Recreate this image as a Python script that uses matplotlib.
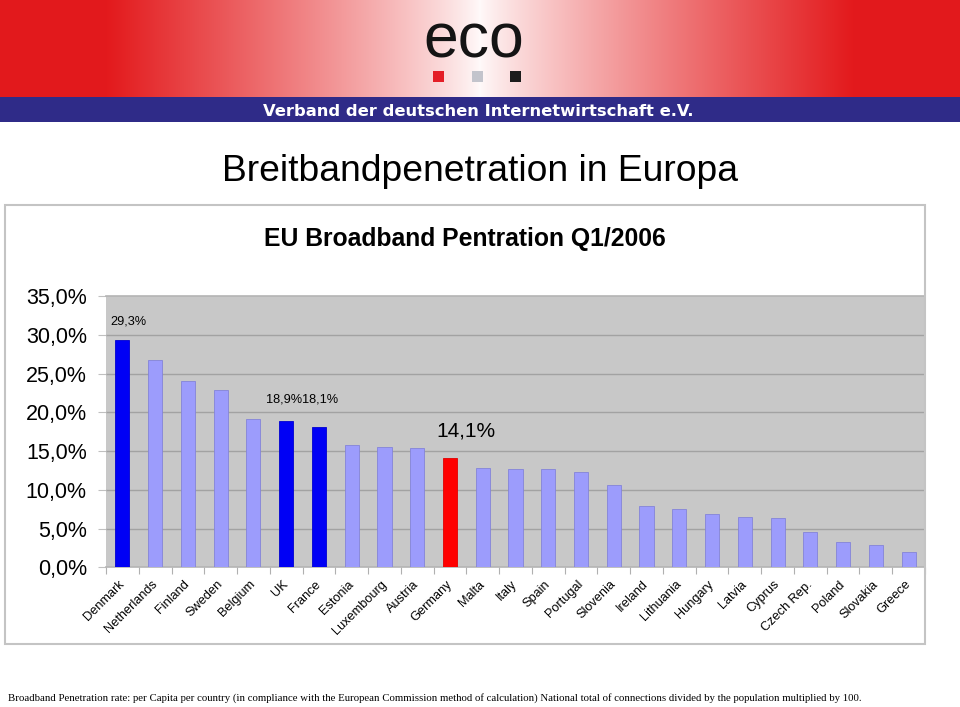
import numpy as np
import matplotlib
matplotlib.use("Agg")
import matplotlib.pyplot as plt
from matplotlib.patches import Rectangle

# ---------------- data ----------------
countries = ["Denmark", "Netherlands", "Finland", "Sweden", "Belgium", "UK", "France",
             "Estonia", "Luxembourg", "Austria", "Germany", "Malta", "Italy", "Spain",
             "Portugal", "Slovenia", "Ireland", "Lithuania", "Hungary", "Latvia",
             "Cyprus", "Czech Rep.", "Poland", "Slovakia", "Greece"]
values = [29.3, 26.8, 24.0, 22.9, 19.1, 18.9, 18.1, 15.8, 15.5, 15.4, 14.1, 12.8,
          12.7, 12.7, 12.3, 10.6, 7.9, 7.5, 6.9, 6.5, 6.4, 4.5, 3.3, 2.9, 2.0]
bar_kind = ["hi", "n", "n", "n", "n", "hi", "hi", "n", "n", "n", "de", "n", "n", "n",
            "n", "n", "n", "n", "n", "n", "n", "n", "n", "n", "n"]
ytick_values = [0, 5, 10, 15, 20, 25, 30, 35]
ytick_labels = ["0,0%", "5,0%", "10,0%", "15,0%", "20,0%", "25,0%", "30,0%", "35,0%"]
value_labels = [("Denmark", "29,3%"), ("UK", "18,9%"), ("France", "18,1%"), ("Germany", "14,1%")]

title = "Breitbandpenetration in Europa"
subtitle = "EU Broadband Pentration Q1/2006"
header_text = "Verband der deutschen Internetwirtschaft e.V."
logo_text = "eco"
footer = ("Broadband Penetration rate: per Capita per country (in compliance with the European "
          "Commission method of calculation) National total of connections divided by the "
          "population multiplied by 100.")

# ---------------- layout helpers ----------------
W, H = 960, 707
fig = plt.figure(figsize=(W / 100, H / 100), dpi=100)
fig.patch.set_facecolor("white")


def fx(x):
    return x / W


def fy(y):
    return 1 - y / H


SANS = ["Liberation Sans", "DejaVu Sans"]

# ---------------- header ----------------
hax = fig.add_axes([0, fy(97), 1, 97 / H])
hax.set_axis_off()
xs = np.linspace(0, 1, 960)
t = np.abs(xs - 0.5) / 0.5
f = np.clip(t / 0.78, 0, 1) ** 0.85
red = np.array([0.89, 0.10, 0.11])
white = np.array([1.0, 0.98, 0.98])
row = white[None, :] * (1 - f[:, None]) + red[None, :] * f[:, None]
img = np.repeat(row[None, :, :], 10, axis=0)
hax.imshow(img, aspect="auto", extent=[0, 1, 0, 1])
hax.set_xlim(0, 1)
hax.set_ylim(0, 1)

fig.patches.append(Rectangle((0, fy(122)), 1, (122 - 97) / H, transform=fig.transFigure,
                             facecolor="#2F2B88", edgecolor="none", zorder=1))
for x0, col in [(433, "#E41E26"), (472, "#C3C4CC"), (510, "#1C1C1C")]:
    fig.patches.append(Rectangle((fx(x0), fy(82)), 11 / W, 11 / H, transform=fig.transFigure,
                                 facecolor=col, edgecolor="none", zorder=2))

fig.text(fx(474), fy(57), logo_text, fontsize=45, family=SANS, color="#141414",
         ha="center", va="baseline", zorder=3)
htxt = fig.text(fx(478), fy(116), header_text, fontsize=12.5, family=["DejaVu Sans"],
                fontweight="bold", color="white", ha="center", va="baseline", zorder=3)

# ---------------- titles ----------------
fig.text(fx(480), fy(181), title, fontsize=26.8, family=SANS, ha="center", va="baseline")
fig.text(fx(465), fy(246), subtitle, fontsize=17.8, family=SANS, fontweight="bold",
         ha="center", va="baseline")

# frame around chart
fig.patches.append(Rectangle((fx(5), fy(644)), (925 - 5) / W, (644 - 205) / H,
                             transform=fig.transFigure, facecolor="none",
                             edgecolor="#C4C4C4", lw=1.5, zorder=0))

# ---------------- chart ----------------
ax = fig.add_axes([fx(106), fy(567.3), fx(925) - fx(106), (567.3 - 296) / H])
ax.set_facecolor("#C8C8C8")
x = np.arange(len(countries))
color_map = {"hi": "#0000F5", "n": "#9C9CFC", "de": "#FF0000"}
edge_map = {"hi": "#0000D0", "n": "#8484D8", "de": "#E00000"}
ax.bar(x, values, width=0.43, color=[color_map[k] for k in bar_kind],
       edgecolor=[edge_map[k] for k in bar_kind], linewidth=0.6, zorder=3)

ax.set_xlim(-0.5, len(countries) - 0.5)
ax.set_ylim(0, 35)
ax.set_yticks(ytick_values)
ax.set_yticklabels(ytick_labels, fontsize=15.5, family=SANS)
for yv in ytick_values[1:-1]:
    ax.axhline(yv, color="#A2A2A2", lw=1.0, zorder=1)

ax.set_xticks(x)
ax.set_xticklabels(countries, rotation=45, ha="right", va="center",
                   rotation_mode="anchor", fontsize=9.2, family=SANS)
ax.set_xticks(np.arange(-0.5, len(countries), 1), minor=True)
ax.tick_params(axis="x", which="major", length=0, pad=11)
ax.tick_params(axis="x", which="minor", length=5, color="#B0B0B0", width=0.8)
ax.tick_params(axis="y", length=5.8, color="#C0C0C0", width=0.8, pad=8)

for side in ["top", "right", "bottom"]:
    ax.spines[side].set_color("#B4B4B4")
    ax.spines[side].set_linewidth(1.2)
ax.spines["left"].set_visible(False)

label_pos = {"Denmark": (0.17, 31.66, 9.2), "UK": (-0.05, 21.6, 9.2),
             "France": (0.03, 21.6, 9.2), "Germany": (0.49, 17.6, 15)}
for name, txt in value_labels:
    i = countries.index(name)
    dx, yy, fs = label_pos[name]
    ax.text(i + dx, yy, txt, ha="center", va="center", fontsize=fs, family=SANS, zorder=4)

# ---------------- footer ----------------
ftxt = fig.text(fx(8), fy(698), footer, fontsize=9.5, family=["Liberation Serif", "DejaVu Serif"],
                ha="left", va="center")

# fit widths of header and footer text to reference
fig.canvas.draw()
r = fig.canvas.get_renderer()
for txt, target in [(ftxt, 850), (htxt, 430)]:
    w = txt.get_window_extent(r).width
    txt.set_fontsize(txt.get_fontsize() * target / w)

fig.savefig("out.png", dpi=100)
